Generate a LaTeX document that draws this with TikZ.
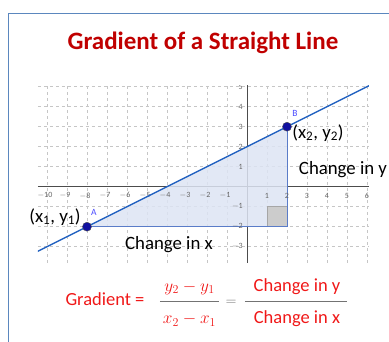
\documentclass[tikz,border=0pt]{standalone}
\usepackage{fontspec}
\setmainfont{Carlito}
\usetikzlibrary{positioning,calc}
\definecolor{titlered}{HTML}{C00000}
\definecolor{framecol}{HTML}{5B87BE}
\definecolor{linecol}{HTML}{1F5FBF}
\definecolor{ptcol}{HTML}{1010A0}
\definecolor{trifill}{HTML}{DDE4F3}
\definecolor{tridraw}{HTML}{5A7CC8}
\definecolor{gridcol}{HTML}{C6C6C6}
\definecolor{fracred}{HTML}{F01818}
\tikzset{
  lbl/.style={font=\fontsize{18.8}{20}\selectfont, inner sep=0pt},
  tick/.style={font=\fontsize{8}{9}\selectfont, text=black!60, inner sep=0pt},
  pt/.style={circle, fill=ptcol, draw=black!70, inner sep=0pt, minimum size=9pt},
  ptname/.style={font=\fontsize{9.5}{10}\selectfont, text=blue!70, inner sep=0pt},
  frm/.style={font=\fontsize{18.5}{20}\selectfont, text=fracred, inner sep=0pt},
  mth/.style={font=\fontsize{18}{20}\selectfont, text=fracred, inner sep=0pt},
  bar/.style={draw=black!55, line width=1pt},
}

\begin{document}
\begin{tikzpicture}[x=20pt, y=20pt]
\useasboundingbox (-12.35,-7.715) rectangle (7.1,9.335);
% frame
\draw[framecol, line width=0.8pt] (-11.95,-7.8) -- (-11.95,8.685) -- (7.2,8.685);
\node[font=\bfseries\fontsize{25}{28}\selectfont, text=titlered] (title) at (-2.2,7.185) {Gradient of a Straight Line};

% grid and axes
\begin{scope}
\clip (-10.45,-3.8) rectangle (6.1,5.08);
\foreach \i in {-10,...,6} \draw[gridcol, dashed, line width=0.5pt] (\i,-3.8) -- (\i,5.1);
\foreach \j in {-3,...,5} \draw[gridcol, dashed, line width=0.5pt] (-10.45,\j) -- (6.1,\j);
\draw[black!70, line width=0.7pt] (-10.45,0) -- (6.1,0);
\draw[black!70, line width=0.7pt] (0,-3.8) -- (0,5.1);
% triangle
\coordinate (C) at (2,-2);
\fill[trifill, opacity=0.85] (-8,-2) -- (2,3) -- (C) -- cycle;
\filldraw[fill=black!20, draw=black!35, line width=0.5pt] (1,-2) rectangle (2,-1);
\draw[tridraw, line width=0.6pt] (-8,-2) -- (C) -- (2,3);
% tick labels
\foreach \i in {-10,...,-1} \node[tick] at (\i-0.1,-0.45) {$-$\the\numexpr-\i\relax};
\foreach \i in {1,...,6} \node[tick] at (\i,-0.45) {\i};
\foreach \j in {1,...,5} \node[tick, anchor=east] at (-0.2,\j) {\j};
\foreach \j in {-3,...,-1} \node[tick, anchor=east] at (-0.2,\j) {$-$\the\numexpr-\j\relax};
% straight line
\coordinate (L1) at (-10.5,-3.25);
\coordinate (L2) at (6.2,5.1);
\draw[linecol, line width=1.4pt] (L1) -- (L2);
\end{scope}

% points
\node[pt] (A) at (-8,-2) {};
\node[pt] (B) at (2,3) {};
\node[ptname] (Aname) at (-7.65,-1.3) {A};
\node[ptname] (Bname) at (2.4,3.68) {B};

% labels
\node[lbl] (p1) at (-9.6,-1.5) {(x\textsubscript{1}, y\textsubscript{1})};
\node[lbl] (p2) at (3.55,2.7) {(x\textsubscript{2}, y\textsubscript{2})};
\node[lbl] (dy) at (4.8,0.835) {Change in y};
\node[lbl] (dx) at (-3.9,-2.915) {Change in x};

% formula
\node[frm] (grad) at (-7.1,-5.615) {Gradient =};
\node[mth] (num) at (-2.875,-5.065) {$y_2 - y_1$};
\node[mth] (den) at (-2.875,-6.665) {$x_2 - x_1$};
\draw[bar] (-4.35,-5.75) -- (-1.4,-5.75);
\node[font=\fontsize{15}{17}\selectfont, text=black!55, inner sep=0pt] (eq) at (-0.8,-5.8) {$=$};
\node[frm] (cy) at (2.5,-5.015) {Change in y};
\node[frm] (cx) at (2.5,-6.615) {Change in x};
\draw[bar] (-0.1,-5.75) -- (5,-5.75);
\end{tikzpicture}
\end{document}
